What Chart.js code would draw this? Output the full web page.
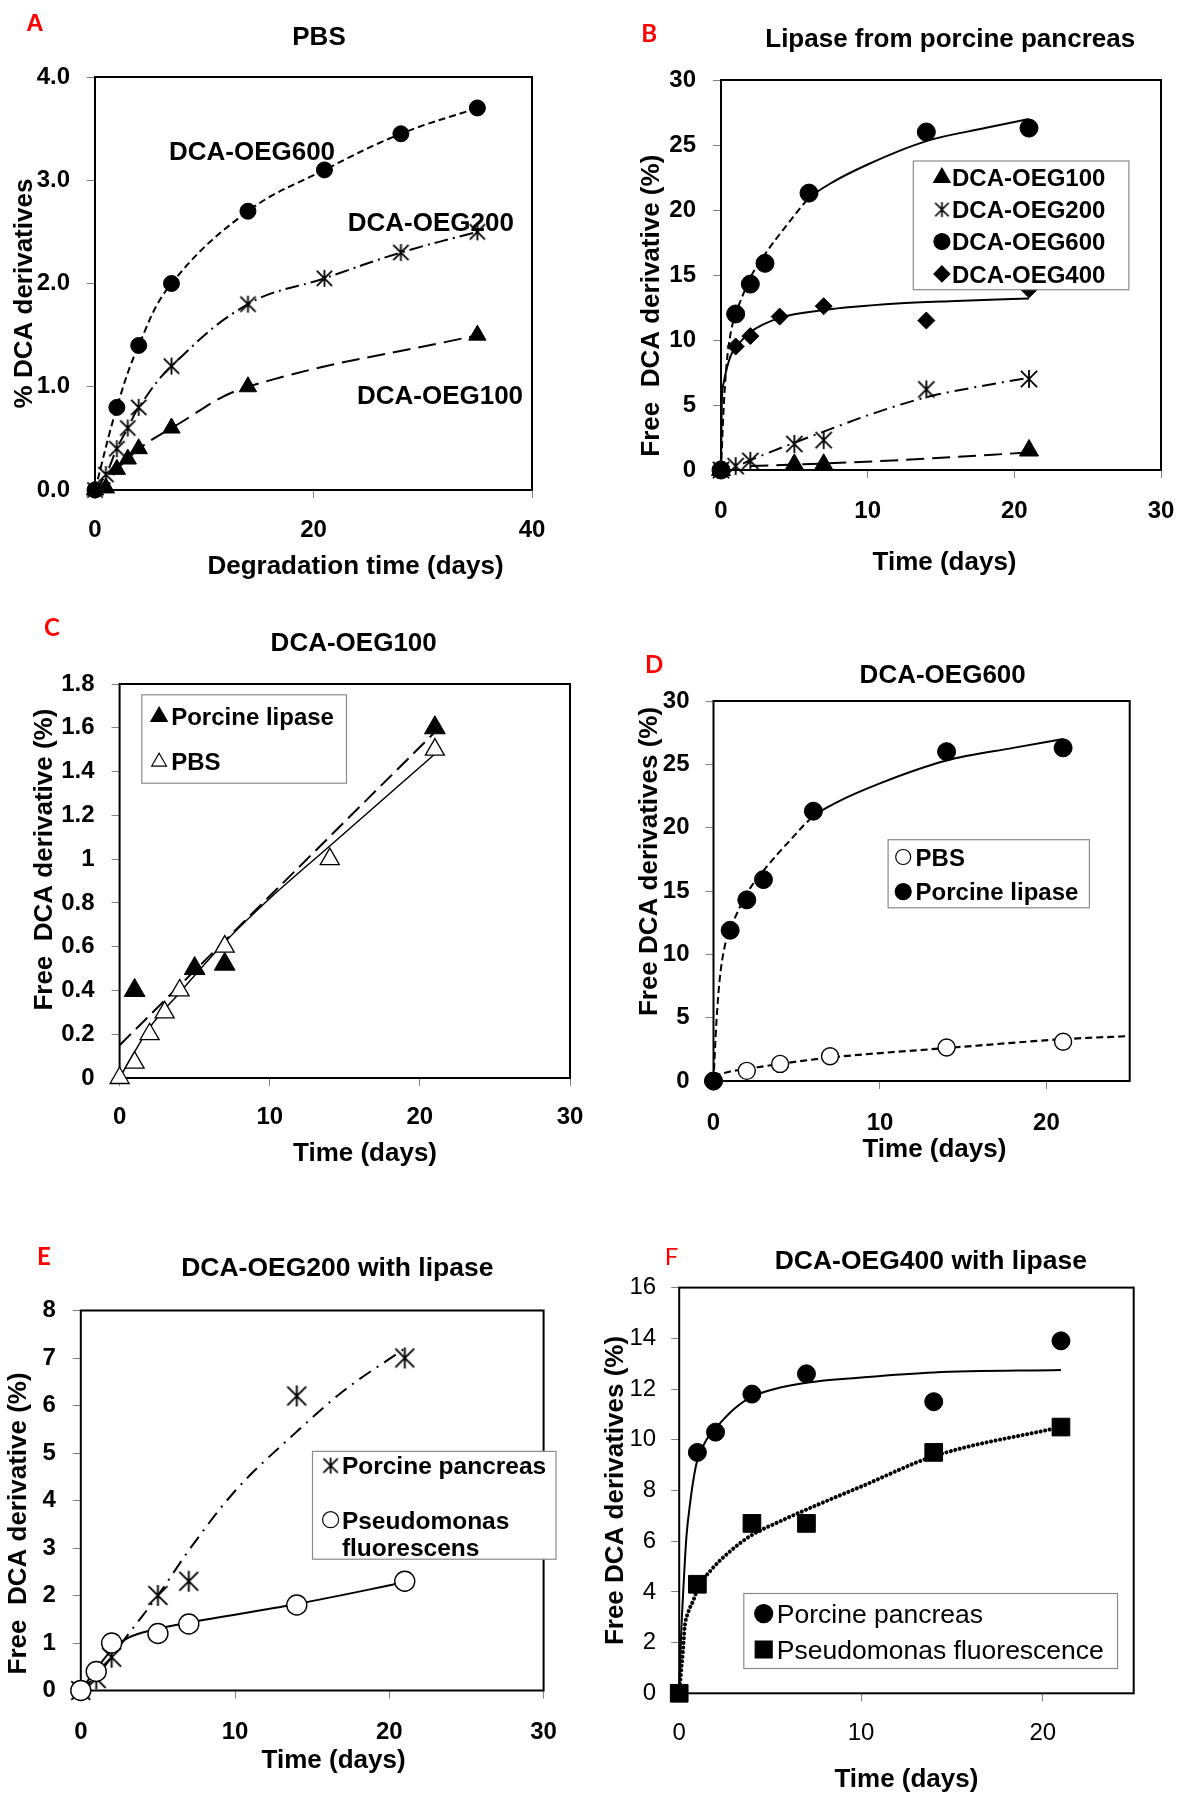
<!DOCTYPE html>
<html>
<head>
<meta charset="utf-8">
<script src="https://cdn.jsdelivr.net/npm/chart.js@4.4.0/dist/chart.umd.min.js"></script>
<style>
  html, body { margin: 0; padding: 0; background: #fff; }
  #page { position: relative; width: 1178px; height: 1793px; overflow: hidden; }
  #page canvas { position: absolute; left: 0; top: 0; }
</style>
</head>
<body>
<div id="page"></div>
<script>
// ---------- data ----------
// A: PBS
const aOeg600X = [0, 2, 4, 7, 14, 21, 28, 35];
const aOeg600Y = [0, 0.8, 1.4, 2.0, 2.7, 3.1, 3.45, 3.7];
const aOeg200X = [0, 1, 2, 3, 4, 7, 14, 21, 28, 35];
const aOeg200Y = [0, 0.15, 0.4, 0.6, 0.8, 1.2, 1.8, 2.05, 2.3, 2.5];
const aOeg100X = [0, 1, 2, 3, 4, 7, 14, 35];
const aOeg100Y = [0, 0.02, 0.2, 0.3, 0.4, 0.6, 1.0, 1.5];

// B: lipase from porcine pancreas
const bOeg100X = [0, 5, 7, 21];
const bOeg100Y = [0, 0.4, 0.4, 1.5];
const bOeg200X = [0, 1, 2, 5, 7, 14, 21];
const bOeg200Y = [0, 0.3, 0.7, 2.0, 2.3, 6.2, 7.0];
const bOeg600X = [0, 1, 2, 3, 6, 14, 21];
const bOeg600Y = [0, 12, 14.3, 15.9, 21.3, 26, 26.3];
const bOeg400X = [0, 1, 2, 4, 7, 14, 21];
const bOeg400Y = [0, 9.5, 10.3, 11.8, 12.6, 11.5, 13.9];
// trend lines
const bFit100X = [2, 7, 14, 21];
const bFit100Y = [0.3, 0.5, 0.87, 1.35];
const bFit200X = [1.5, 2, 5, 7, 10, 14, 17, 21];
const bFit200Y = [0.5, 0.75, 2.1, 2.95, 4.2, 5.6, 6.3, 7.1];
const bFit400X = [0, 0.05, 0.18, 0.63, 1, 2, 4, 7, 12, 16, 21];
const bFit400Y = [0, 5, 6.7, 8.7, 9.4, 10.6, 11.7, 12.3, 12.8, 13.0, 13.2];
const lipaseFitX = [0, 0.17, 0.37, 0.67, 1, 1.4, 2, 3, 4.6, 6, 7.4, 10, 14, 18, 21];
const lipaseFitY = [0, 4.5, 8, 10.6, 12, 13.2, 14.8, 16.6, 19, 20.9, 22.0, 23.5, 25.3, 26.3, 27.0];

// C: DCA-OEG100
const cLipaseX = [1, 5, 7, 21];
const cLipaseY = [0.4, 0.5, 0.52, 1.6];
const cPbsX = [0, 1, 2, 3, 4, 7, 14, 21];
const cPbsY = [0, 0.07, 0.2, 0.3, 0.4, 0.6, 1.0, 1.5];
const cLipaseFitX = [0, 21];
const cLipaseFitY = [0.15, 1.58];
const cPbsFitX = [0, 1, 2, 4, 7, 10, 14, 21];
const cPbsFitY = [0, 0.12, 0.23, 0.39, 0.62, 0.82, 1.06, 1.48];

// D: DCA-OEG600
const dPbsX = [0, 2, 4, 7, 14, 21];
const dPbsY = [0, 0.8, 1.35, 1.95, 2.65, 3.1];
const dLipaseX = [0, 1, 2, 3, 6, 14, 21];
const dLipaseY = [0, 11.9, 14.3, 15.9, 21.3, 26, 26.3];
const dPbsFitX = [0, 1, 2, 4, 7, 14, 21, 25];
const dPbsFitY = [0.4, 0.75, 0.95, 1.35, 1.85, 2.6, 3.3, 3.55];

// E: DCA-OEG200 with lipase
const ePorcineX = [0, 1, 2, 5, 7, 14, 21];
const ePorcineY = [0, 0.25, 0.7, 2.0, 2.3, 6.2, 7.0];
const ePseudoX = [0, 1, 2, 5, 7, 14, 21];
const ePseudoY = [0, 0.4, 1.0, 1.2, 1.4, 1.8, 2.3];
const ePorcineFitX = [0, 1, 2, 3, 5, 7, 10, 14, 17, 21];
const ePorcineFitY = [0, 0.3, 0.7, 1.15, 2.0, 2.95, 4.2, 5.45, 6.3, 7.2];
const ePseudoFitX = [0, 1, 2, 3, 5, 7, 14, 21];
const ePseudoFitY = [0, 0.45, 0.85, 1.1, 1.3, 1.43, 1.82, 2.28];

// F: DCA-OEG400 with lipase
const fPorcineX = [1, 2, 4, 7, 14, 21];
const fPorcineY = [9.5, 10.3, 11.8, 12.6, 11.5, 13.9];
const fPseudoX = [0, 1, 4, 7, 14, 21];
const fPseudoY = [0, 4.3, 6.7, 6.7, 9.5, 10.5];
const fPorcineFitX = [0, 0.1, 0.25, 0.4, 0.6, 0.8, 1, 1.5, 2, 3, 4, 5.5, 7, 10, 14, 21];
const fPorcineFitY = [0, 2.2, 4.4, 6.2, 7.5, 8.5, 9.2, 10.0, 10.45, 11.2, 11.7, 12.05, 12.25, 12.45, 12.65, 12.75];
const fPseudoFitX = [0, 0.1, 0.2, 0.3, 0.5, 0.8, 1, 1.8, 2.8, 3.9, 5.6, 7.5, 10, 14, 21];
const fPseudoFitY = [0, 0.8, 1.6, 2.6, 3.2, 3.7, 4.1, 4.9, 5.6, 6.2, 6.8, 7.4, 8.15, 9.35, 10.5];

// ---------- helpers ----------
const W = 1178, H = 1793, YW = 75, XH = 70;
const FONT = "'Liberation Sans', Arial, sans-serif";
const LETTER = "Lato, 'Liberation Sans', sans-serif";
const page = document.getElementById('page');

const pts = (xs, ys) => xs.map((x, i) => ({x: x, y: ys[i]}));

function asterisk(size, lw) {
  const c = document.createElement('canvas');
  c.width = c.height = Math.ceil(size) + 2;
  const g = c.getContext('2d');
  const m = c.width / 2, h = size / 2, d = h * 0.9;
  g.strokeStyle = '#000';
  g.lineWidth = lw;
  g.beginPath();
  g.moveTo(m, m - h); g.lineTo(m, m + h);
  g.moveTo(m - d, m - d); g.lineTo(m + d, m + d);
  g.moveTo(m + d, m - d); g.lineTo(m - d, m + d);
  g.stroke();
  return c;
}

function markers(xs, ys, m) {
  return {
    data: pts(xs, ys), showLine: false, clip: false, order: 0,
    pointStyle: m.style, pointRadius: m.r || 8,
    pointBackgroundColor: m.fill || '#000', pointBorderColor: '#000',
    pointBorderWidth: m.lw === undefined ? 1 : m.lw
  };
}

function curve(xs, ys, o) {
  return Object.assign({
    data: pts(xs, ys), showLine: true, pointRadius: 0, clip: false, order: 1,
    borderColor: '#000', borderWidth: 2, borderDash: [], fill: false,
    cubicInterpolationMode: 'monotone'
  }, o);
}

function drawText(ctx, t) {
  ctx.save();
  ctx.font = (t.weight || 'bold') + ' ' + t.size + 'px ' + (t.family || FONT);
  ctx.fillStyle = t.color || '#000';
  ctx.textAlign = t.align || 'center';
  ctx.textBaseline = 'alphabetic';
  ctx.translate(t.x, t.y);
  if (t.rot) ctx.rotate(-Math.PI / 2);
  ctx.fillText(t.text, 0, t.size * 0.36);
  ctx.restore();
}

function drawMarker(ctx, m, x, y) {
  if (!m) return;
  ctx.save();
  if (m.style instanceof HTMLCanvasElement) {
    ctx.drawImage(m.style, x - m.style.width / 2, y - m.style.height / 2);
    ctx.restore();
    return;
  }
  const r = m.r;
  ctx.fillStyle = m.fill || '#000';
  ctx.strokeStyle = '#000';
  ctx.lineWidth = m.lw || 1.2;
  ctx.beginPath();
  if (m.style === 'circle') {
    ctx.arc(x, y, r, 0, Math.PI * 2);
  } else if (m.style === 'triangle') {
    for (let k = 0; k < 3; k++) {
      const a = k * 2 * Math.PI / 3;
      ctx.lineTo(x + Math.sin(a) * r, y - Math.cos(a) * r);
    }
    ctx.closePath();
  } else if (m.style === 'rectRot') {
    ctx.moveTo(x, y - r); ctx.lineTo(x + r, y); ctx.lineTo(x, y + r); ctx.lineTo(x - r, y);
    ctx.closePath();
  } else if (m.style === 'rect') {
    const h = r * Math.SQRT1_2;
    ctx.rect(x - h, y - h, 2 * h, 2 * h);
  }
  ctx.fill();
  ctx.stroke();
  ctx.restore();
}

function drawLegend(ctx, lg) {
  const [x1, y1, x2, y2] = lg.box;
  ctx.save();
  ctx.fillStyle = '#fff';
  ctx.fillRect(x1, y1, x2 - x1, y2 - y1);
  ctx.strokeStyle = '#8a8a8a';
  ctx.lineWidth = 1.2;
  ctx.strokeRect(x1, y1, x2 - x1, y2 - y1);
  ctx.restore();
  lg.rows.forEach(row => {
    drawMarker(ctx, row.m, lg.mx, row.y);
    drawText(ctx, {text: row.text, x: lg.tx, y: row.y, size: lg.size, weight: lg.weight, align: 'left'});
  });
}

function makeDecor(p) {
  return {
    id: 'decor',
    beforeDatasetsDraw(chart) {
      const a = chart.chartArea, ctx = chart.ctx;
      ctx.save();
      ctx.strokeStyle = '#000';
      ctx.lineWidth = 2;
      ctx.strokeRect(a.left, a.top, a.right - a.left, a.bottom - a.top);
      ctx.restore();
    },
    afterDraw(chart) {
      const ctx = chart.ctx;
      p.texts.forEach(t => drawText(ctx, t));
      if (p.legend) drawLegend(ctx, p.legend);
    }
  };
}

function makePanel(p) {
  const cv = document.createElement('canvas');
  cv.width = W; cv.height = H;
  page.appendChild(cv);
  const tickFont = {family: FONT, size: p.tickSize || 24, weight: p.tickWeight || 'bold'};
  const grid = {drawOnChartArea: false, drawTicks: true, tickLength: 8, tickColor: '#808080', tickWidth: 1};
  return new Chart(cv, {
    type: 'line',
    data: {datasets: p.datasets},
    options: {
      responsive: false,
      animation: false,
      events: [],
      layout: {
        autoPadding: false,
        padding: {left: p.area.l - YW, top: p.area.t, right: W - p.area.r, bottom: H - p.area.b - XH}
      },
      plugins: {legend: {display: false}, tooltip: {enabled: false}, title: {display: false}},
      scales: {
        x: {
          type: 'linear', min: 0, max: p.xMax,
          afterFit: s => { s.height = XH; s.paddingLeft = 0; s.paddingRight = 0; },
          ticks: {stepSize: p.xStep, includeBounds: false, autoSkip: false, maxRotation: 0,
                  padding: p.xPad, color: '#000', font: tickFont},
          grid: grid, border: {display: false}
        },
        y: {
          type: 'linear', min: 0, max: p.yMax,
          afterFit: s => { s.width = YW; s.paddingTop = 0; s.paddingBottom = 0; },
          ticks: {stepSize: p.yStep, includeBounds: false, autoSkip: false, padding: p.yPad,
                  color: '#000', font: tickFont, callback: p.yFmt || (v => String(+v.toFixed(1)))},
          grid: grid, border: {display: false}
        }
      }
    },
    plugins: [makeDecor(p)]
  });
}

// marker styles
const astA = asterisk(17, 1.8);
const astB = asterisk(18, 1.8);
const astBLeg = asterisk(15, 1.7);
const astE = asterisk(21, 1.9);
const astELeg = asterisk(16, 1.7);
const red = '#ff0000';

// ---------- A ----------
makePanel({
  area: {l: 95, r: 532, t: 77, b: 490},
  xMax: 40, xStep: 20, yMax: 4, yStep: 1, xPad: 18, yPad: 17,
  yFmt: v => v.toFixed(1),
  datasets: [
    markers(aOeg600X, aOeg600Y, {style: 'circle', r: 8}),
    markers(aOeg200X, aOeg200Y, {style: astA}),
    markers(aOeg100X, aOeg100Y, {style: 'triangle', r: 10}),
    curve(aOeg600X, aOeg600Y, {borderDash: [7, 4], tension: 0.4, cubicInterpolationMode: 'default'}),
    curve(aOeg200X, aOeg200Y, {borderDash: [14, 5, 2, 5], tension: 0.4, cubicInterpolationMode: 'default'}),
    curve(aOeg100X, aOeg100Y, {borderDash: [18, 8], tension: 0.4, cubicInterpolationMode: 'default'})
  ],
  texts: [
    {text: 'A', x: 35, y: 22.6, size: 24, color: red},
    {text: 'PBS', x: 319, y: 35.4, size: 26},
    {text: 'Degradation time (days)', x: 355.5, y: 565, size: 26},
    {text: '% DCA derivatives', x: 22.6, y: 293.5, size: 26, rot: true},
    {text: 'DCA-OEG600', x: 252, y: 150.5, size: 26},
    {text: 'DCA-OEG200', x: 430.8, y: 222, size: 26},
    {text: 'DCA-OEG100', x: 440, y: 394.3, size: 26}
  ]
});

// ---------- B ----------
makePanel({
  area: {l: 721, r: 1161, t: 80, b: 470},
  xMax: 30, xStep: 10, yMax: 30, yStep: 5, xPad: 19, yPad: 17,
  datasets: [
    markers(bOeg600X, bOeg600Y, {style: 'circle', r: 9}),
    markers(bOeg400X, bOeg400Y, {style: 'rectRot', r: 8.5}),
    markers(bOeg200X, bOeg200Y, {style: astB}),
    markers(bOeg100X, bOeg100Y, {style: 'triangle', r: 11}),
    curve(lipaseFitX, lipaseFitY, {segment: {borderDash: c => c.p0.parsed.x < 6 ? [7, 4] : undefined}}),
    curve(bFit400X, bFit400Y, {}),
    curve(bFit200X, bFit200Y, {borderDash: [14, 6, 2, 6]}),
    curve(bFit100X, bFit100Y, {borderDash: [18, 8]})
  ],
  texts: [
    {text: 'B', x: 649.2, y: 33.1, size: 24, color: red, family: LETTER},
    {text: 'Lipase from porcine pancreas', x: 950.2, y: 37.6, size: 26},
    {text: 'Time (days)', x: 944.5, y: 560.6, size: 26},
    {text: 'Free  DCA derivative (%)', x: 649.2, y: 305.7, size: 26, rot: true}
  ],
  legend: {
    box: [913.3, 161, 1128.9, 289.7], mx: 941.9, tx: 952, size: 24,
    rows: [
      {y: 177.6, text: 'DCA-OEG100', m: {style: 'triangle', r: 9.5}},
      {y: 209.6, text: 'DCA-OEG200', m: {style: astBLeg}},
      {y: 241.5, text: 'DCA-OEG600', m: {style: 'circle', r: 8}},
      {y: 273.9, text: 'DCA-OEG400', m: {style: 'rectRot', r: 8}}
    ]
  }
});

// ---------- C ----------
makePanel({
  area: {l: 119.6, r: 570, t: 684, b: 1078},
  xMax: 30, xStep: 10, yMax: 1.8, yStep: 0.2, xPad: 17, yPad: 17,
  datasets: [
    markers(cPbsX, cPbsY, {style: 'triangle', r: 11, fill: '#fff', lw: 1.3}),
    markers(cLipaseX, cLipaseY, {style: 'triangle', r: 12}),
    curve(cLipaseFitX, cLipaseFitY, {borderDash: [16, 7]}),
    curve(cPbsFitX, cPbsFitY, {borderWidth: 1.5})
  ],
  texts: [
    {text: 'C', x: 51.9, y: 627.1, size: 24, color: red, family: LETTER},
    {text: 'DCA-OEG100', x: 353.7, y: 641.4, size: 26},
    {text: 'Time (days)', x: 365, y: 1151.2, size: 26},
    {text: 'Free  DCA derivative (%)', x: 42.5, y: 859.6, size: 26, rot: true}
  ],
  legend: {
    box: [141.8, 694.8, 346.5, 783.2], mx: 159.1, tx: 171.2, size: 24,
    rows: [
      {y: 716.6, text: 'Porcine lipase', m: {style: 'triangle', r: 9.5}},
      {y: 761.8, text: 'PBS', m: {style: 'triangle', r: 8.5, fill: '#fff'}}
    ]
  }
});

// ---------- D ----------
makePanel({
  area: {l: 713.5, r: 1129.7, t: 701, b: 1081},
  xMax: 25, xStep: 10, yMax: 30, yStep: 5, xPad: 20, yPad: 16,
  datasets: [
    markers(dLipaseX, dLipaseY, {style: 'circle', r: 9}),
    markers(dPbsX, dPbsY, {style: 'circle', r: 8.5, fill: '#fff', lw: 1.4}),
    curve(lipaseFitX, lipaseFitY, {segment: {borderDash: c => c.p0.parsed.x < 6 ? [7, 4] : undefined}}),
    curve(dPbsFitX, dPbsFitY, {borderDash: [7, 4], borderWidth: 2.2})
  ],
  texts: [
    {text: 'D', x: 654.1, y: 664.7, size: 24, color: red, family: LETTER},
    {text: 'DCA-OEG600', x: 942.7, y: 673.4, size: 26},
    {text: 'Time (days)', x: 934.4, y: 1147.4, size: 26},
    {text: 'Free DCA derivatives (%)', x: 647.3, y: 861.5, size: 26, rot: true}
  ],
  legend: {
    box: [888.1, 839.7, 1089.4, 907.8], mx: 903.2, tx: 915.6, size: 24,
    rows: [
      {y: 857, text: 'PBS', m: {style: 'circle', r: 7.5, fill: '#fff'}},
      {y: 891.6, text: 'Porcine lipase', m: {style: 'circle', r: 8}}
    ]
  }
});

// ---------- E ----------
makePanel({
  area: {l: 80.8, r: 543.6, t: 1310.5, b: 1690.5},
  xMax: 30, xStep: 10, yMax: 8, yStep: 1, xPad: 19, yPad: 17,
  datasets: [
    markers(ePseudoX, ePseudoY, {style: 'circle', r: 10, fill: '#fff', lw: 1.4}),
    markers(ePorcineX, ePorcineY, {style: astE}),
    curve(ePorcineFitX, ePorcineFitY, {borderDash: [14, 7, 2, 7]}),
    curve(ePseudoFitX, ePseudoFitY, {})
  ],
  texts: [
    {text: 'E', x: 44, y: 1256.5, size: 24, color: red, family: LETTER},
    {text: 'DCA-OEG200 with lipase', x: 337.3, y: 1266.8, size: 26.5},
    {text: 'Time (days)', x: 333.6, y: 1759.1, size: 26},
    {text: 'Free  DCA derivative (%)', x: 16.9, y: 1523.4, size: 26, rot: true}
  ],
  legend: {
    box: [312.5, 1451.4, 556, 1559.2], mx: 330.6, tx: 341.9, size: 24.5,
    rows: [
      {y: 1465.6, text: 'Porcine pancreas', m: {style: astELeg}},
      {y: 1519.7, text: 'Pseudomonas', m: {style: 'circle', r: 8, fill: '#fff'}},
      {y: 1547.1, text: 'fluorescens'}
    ]
  }
});

// ---------- F ----------
makePanel({
  area: {l: 679.2, r: 1133.7, t: 1287.6, b: 1693.3},
  xMax: 25, xStep: 10, yMax: 16, yStep: 2, xPad: 18, yPad: 15, tickWeight: 'normal',
  datasets: [
    markers(fPseudoX, fPseudoY, {style: 'rect', r: 12.5}),
    markers(fPorcineX, fPorcineY, {style: 'circle', r: 9}),
    curve(fPorcineFitX, fPorcineFitY, {}),
    curve(fPseudoFitX, fPseudoFitY, {borderWidth: 4, borderDash: [0.1, 4.5], borderCapStyle: 'round'})
  ],
  texts: [
    {text: 'F', x: 671.6, y: 1256.5, size: 24, color: red, family: LETTER, weight: 'normal'},
    {text: 'DCA-OEG400 with lipase', x: 930.8, y: 1259.5, size: 26.5},
    {text: 'Time (days)', x: 906.4, y: 1777.4, size: 26},
    {text: 'Free DCA derivatives (%)', x: 613.4, y: 1490.5, size: 26, rot: true}
  ],
  legend: {
    box: [743.8, 1593.5, 1117.5, 1668.5], mx: 763.7, tx: 776.8, size: 26.5, weight: 'normal',
    rows: [
      {y: 1613.6, text: 'Porcine pancreas', m: {style: 'circle', r: 9}},
      {y: 1649.5, text: 'Pseudomonas fluorescence', m: {style: 'rect', r: 12}}
    ]
  }
});
</script>
</body>
</html>
